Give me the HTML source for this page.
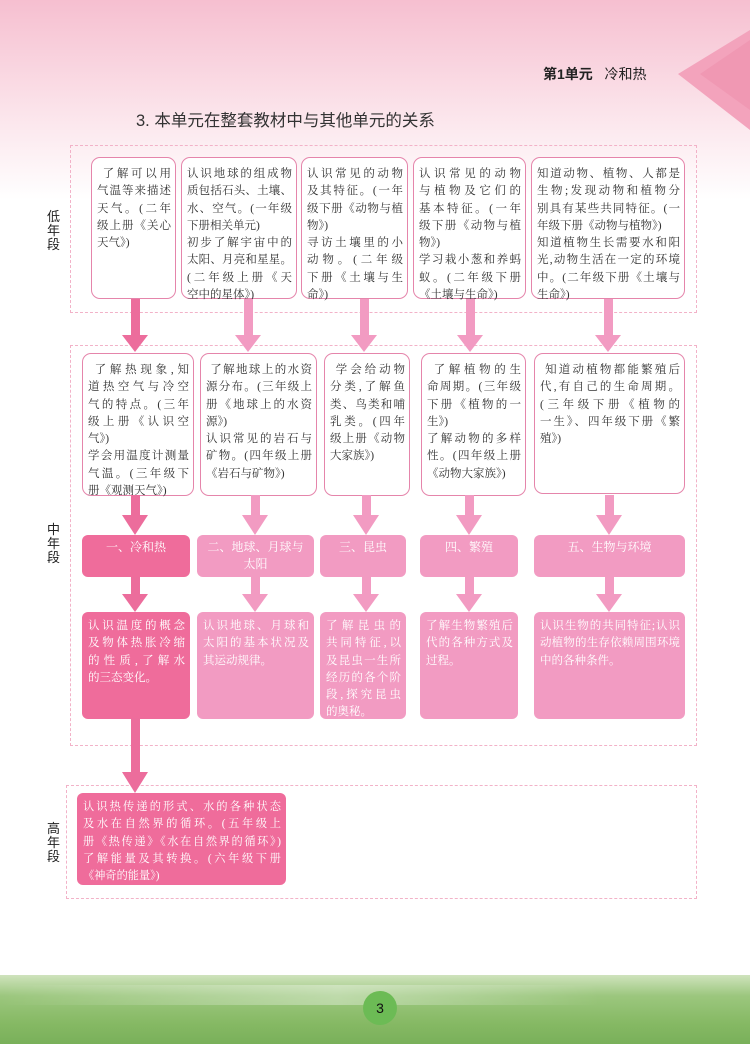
<!DOCTYPE html>
<html><head><meta charset="utf-8">
<style>
*{margin:0;padding:0;box-sizing:border-box}
body{width:750px;height:1044px;position:relative;overflow:hidden;background:#fff;font-family:"Liberation Serif","Noto Serif CJK SC",serif;}
.bgtop{position:absolute;left:0;top:0;width:750px;height:200px;background:linear-gradient(#f6bfd0,#fbe3ea 55%,#fff)}
.grass{position:absolute;left:0;top:975px;width:750px;height:69px;background:linear-gradient(#cfe3bd,#9cc77e 30%,#86b964 70%,#79b05a)}
.grass2{position:absolute;left:0;top:985px;width:750px;height:20px;background:linear-gradient(90deg,rgba(255,255,255,.0),rgba(255,255,255,.35) 45%,rgba(255,255,255,0) 80%)}
.abs{position:absolute}
.dash{position:absolute;border:1.3px dashed #f2b2c8}
.lab{position:absolute;font-family:"Liberation Sans","Noto Sans CJK SC",sans-serif;font-size:13px;line-height:14px;width:14px;color:#222}
.box{position:absolute;background:#fff;border:1.5px solid #e585ab;border-radius:9px;padding:8px 4px 0 5px;font-size:11.5px;line-height:17.3px;color:#333}
.l{white-space:nowrap}
.j{text-align:justify;text-align-last:justify}
.t{position:absolute;border-radius:6px;color:#fff;font-size:12px;line-height:17px;text-align:center;padding-top:4px}
.d{position:absolute;border-radius:6px;color:#fff;font-size:11.5px;line-height:17.3px;padding:6px 5px 0 6px}
.dk{background:#ef6c9b}
.lt{background:#f29bc2}
.bar{position:absolute;width:9px}
.head{position:absolute;width:0;height:0;border-left:13px solid transparent;border-right:13px solid transparent}
</style></head><body>
<div class="bgtop"></div>
<svg class="abs" style="left:670px;top:30px" width="80" height="100"><polygon points="80,0 8,44 80,100" fill="#f3a3bc"/><polygon points="80,10 30,44 80,80" fill="#ee91ae" opacity=".6"/></svg>
<div class="abs" style="left:543px;top:64px;font-family:'Liberation Sans','Noto Sans CJK SC',sans-serif;font-size:14px;color:#222"><b>第1单元</b>&nbsp;&nbsp;&nbsp;冷和热</div>
<div class="abs" style="left:136px;top:107px;font-family:'Liberation Sans','Noto Sans CJK SC',sans-serif;font-size:16.5px;color:#333">3. 本单元在整套教材中与其他单元的关系</div>

<div class="dash" style="left:70px;top:145px;width:627px;height:168px"></div>
<div class="dash" style="left:70px;top:345px;width:627px;height:401px"></div>
<div class="dash" style="left:66px;top:785px;width:631px;height:114px"></div>
<div class="lab" style="left:47px;top:210px">低年段</div>
<div class="lab" style="left:47px;top:523px">中年段</div>
<div class="lab" style="left:47px;top:822px">高年段</div>

<!-- row 1 -->
<div class="box" style="left:91px;top:157px;width:85px;height:142px"><div class="l j">&nbsp;了解可以用</div><div class="l j">气温等来描述</div><div class="l j">天气。(二年</div><div class="l j">级上册《关心</div><div class="l">天气》)</div></div>
<div class="box" style="left:181px;top:157px;width:116px;height:142px"><div class="l j">认识地球的组成物</div><div class="l j">质包括石头、土壤、</div><div class="l j">水、空气。(一年级</div><div class="l">下册相关单元)</div><div class="l j">初步了解宇宙中的</div><div class="l j">太阳、月亮和星星。</div><div class="l j">(二年级上册《天</div><div class="l">空中的星体》)</div></div>
<div class="box" style="left:301px;top:157px;width:107px;height:142px"><div class="l j">认识常见的动物</div><div class="l j">及其特征。(一年</div><div class="l j">级下册《动物与植</div><div class="l">物》)</div><div class="l j">寻访土壤里的小</div><div class="l j">动物。(二年级</div><div class="l j">下册《土壤与生</div><div class="l">命》)</div></div>
<div class="box" style="left:413px;top:157px;width:113px;height:142px"><div class="l j">认识常见的动物</div><div class="l j">与植物及它们的</div><div class="l j">基本特征。(一年</div><div class="l j">级下册《动物与植</div><div class="l">物》)</div><div class="l j">学习栽小葱和养蚂</div><div class="l j">蚁。(二年级下册</div><div class="l">《土壤与生命》)</div></div>
<div class="box" style="left:531px;top:157px;width:154px;height:142px"><div class="l j">知道动物、植物、人都是</div><div class="l j">生物;发现动物和植物分</div><div class="l j">别具有某些共同特征。(一</div><div class="l">年级下册《动物与植物》)</div><div class="l j">知道植物生长需要水和阳</div><div class="l j">光,动物生活在一定的环境</div><div class="l j">中。(二年级下册《土壤与</div><div class="l">生命》)</div></div>

<!-- arrows row1->row2 -->
<div class="bar" style="left:131px;top:299px;height:38px;background:#ec6d9c"></div><div class="head" style="left:122px;top:335px;border-top:17px solid #ec6d9c"></div>
<div class="bar" style="left:244px;top:299px;height:38px;background:#f29bc2"></div><div class="head" style="left:235px;top:335px;border-top:17px solid #f29bc2"></div>
<div class="bar" style="left:360px;top:299px;height:38px;background:#f29bc2"></div><div class="head" style="left:351px;top:335px;border-top:17px solid #f29bc2"></div>
<div class="bar" style="left:466px;top:299px;height:38px;background:#f29bc2"></div><div class="head" style="left:457px;top:335px;border-top:17px solid #f29bc2"></div>
<div class="bar" style="left:604px;top:299px;height:38px;background:#f29bc2"></div><div class="head" style="left:595px;top:335px;border-top:17px solid #f29bc2"></div>

<!-- row 2 -->
<div class="box" style="left:82px;top:353px;width:112px;height:143px"><div class="l j">&nbsp;了解热现象,知</div><div class="l j">道热空气与冷空</div><div class="l j">气的特点。(三年</div><div class="l j">级上册《认识空</div><div class="l">气》)</div><div class="l j">学会用温度计测量</div><div class="l j">气温。(三年级下</div><div class="l">册《观测天气》)</div></div>
<div class="box" style="left:200px;top:353px;width:117px;height:143px"><div class="l j">&nbsp;了解地球上的水资</div><div class="l j">源分布。(三年级上</div><div class="l j">册《地球上的水资</div><div class="l">源》)</div><div class="l j">认识常见的岩石与</div><div class="l j">矿物。(四年级上册</div><div class="l">《岩石与矿物》)</div></div>
<div class="box" style="left:324px;top:353px;width:86px;height:143px"><div class="l j">&nbsp;学会给动物</div><div class="l j">分类,了解鱼</div><div class="l j">类、鸟类和哺</div><div class="l j">乳类。(四年</div><div class="l j">级上册《动物</div><div class="l">大家族》)</div></div>
<div class="box" style="left:421px;top:353px;width:105px;height:143px"><div class="l j">&nbsp;了解植物的生</div><div class="l j">命周期。(三年级</div><div class="l j">下册《植物的一</div><div class="l">生》)</div><div class="l j">了解动物的多样</div><div class="l j">性。(四年级上册</div><div class="l">《动物大家族》)</div></div>
<div class="box" style="left:534px;top:353px;width:151px;height:141px"><div class="l j">&nbsp;知道动植物都能繁殖后</div><div class="l j">代,有自己的生命周期。</div><div class="l j">(三年级下册《植物的</div><div class="l j">一生》、四年级下册《繁</div><div class="l">殖》)</div></div>

<!-- arrows row2->titles -->
<div class="bar" style="left:131px;top:495px;height:22px;background:#ec6d9c"></div><div class="head" style="left:122px;top:515px;border-top:20px solid #ec6d9c"></div>
<div class="bar" style="left:251px;top:495px;height:22px;background:#f29bc2"></div><div class="head" style="left:242px;top:515px;border-top:20px solid #f29bc2"></div>
<div class="bar" style="left:362px;top:495px;height:22px;background:#f29bc2"></div><div class="head" style="left:353px;top:515px;border-top:20px solid #f29bc2"></div>
<div class="bar" style="left:465px;top:495px;height:22px;background:#f29bc2"></div><div class="head" style="left:456px;top:515px;border-top:20px solid #f29bc2"></div>
<div class="bar" style="left:605px;top:495px;height:22px;background:#f29bc2"></div><div class="head" style="left:596px;top:515px;border-top:20px solid #f29bc2"></div>

<!-- titles -->
<div class="t dk" style="left:82px;top:535px;width:108px;height:42px">一、冷和热</div>
<div class="t lt" style="left:197px;top:535px;width:117px;height:42px">二、地球、月球与<br>太阳</div>
<div class="t lt" style="left:320px;top:535px;width:86px;height:42px">三、昆虫</div>
<div class="t lt" style="left:420px;top:535px;width:98px;height:42px">四、繁殖</div>
<div class="t lt" style="left:534px;top:535px;width:151px;height:42px">五、生物与环境</div>

<!-- arrows titles->desc -->
<div class="bar" style="left:131px;top:577px;height:18px;background:#ec6d9c"></div><div class="head" style="left:122px;top:594px;border-top:18px solid #ec6d9c"></div>
<div class="bar" style="left:251px;top:577px;height:18px;background:#f29bc2"></div><div class="head" style="left:242px;top:594px;border-top:18px solid #f29bc2"></div>
<div class="bar" style="left:362px;top:577px;height:18px;background:#f29bc2"></div><div class="head" style="left:353px;top:594px;border-top:18px solid #f29bc2"></div>
<div class="bar" style="left:465px;top:577px;height:18px;background:#f29bc2"></div><div class="head" style="left:456px;top:594px;border-top:18px solid #f29bc2"></div>
<div class="bar" style="left:605px;top:577px;height:18px;background:#f29bc2"></div><div class="head" style="left:596px;top:594px;border-top:18px solid #f29bc2"></div>

<!-- desc -->
<div class="d dk" style="left:82px;top:612px;width:108px;height:107px"><div class="l j">认识温度的概念</div><div class="l j">及物体热胀冷缩</div><div class="l j">的性质,了解水</div><div class="l">的三态变化。</div></div>
<div class="d lt" style="left:197px;top:612px;width:117px;height:107px"><div class="l j">认识地球、月球和</div><div class="l j">太阳的基本状况及</div><div class="l">其运动规律。</div></div>
<div class="d lt" style="left:320px;top:612px;width:86px;height:107px"><div class="l j">了解昆虫的</div><div class="l j">共同特征,以</div><div class="l j">及昆虫一生所</div><div class="l j">经历的各个阶</div><div class="l j">段,探究昆虫</div><div class="l">的奥秘。</div></div>
<div class="d lt" style="left:420px;top:612px;width:98px;height:107px"><div class="l j">了解生物繁殖后</div><div class="l j">代的各种方式及</div><div class="l">过程。</div></div>
<div class="d lt" style="left:534px;top:612px;width:151px;height:107px"><div class="l j">认识生物的共同特征;认识</div><div class="l j">动植物的生存依赖周围环境</div><div class="l">中的各种条件。</div></div>

<!-- arrow to high -->
<div class="bar" style="left:131px;top:718px;height:55px;background:#ec6d9c"></div><div class="head" style="left:122px;top:772px;border-top:21px solid #ec6d9c"></div>

<div class="d dk" style="left:77px;top:793px;width:209px;height:92px;padding-left:6px;padding-right:5px;font-size:11.2px"><div class="l j">认识热传递的形式、水的各种状态</div><div class="l j">及水在自然界的循环。(五年级上</div><div class="l j">册《热传递》《水在自然界的循环》)</div><div class="l j">了解能量及其转换。(六年级下册</div><div class="l">《神奇的能量》)</div></div>

<div class="grass"></div><div class="grass2"></div>
<div class="abs" style="left:363px;top:991px;width:34px;height:34px;border-radius:50%;background:#6cbb55;color:#111;font-family:'Liberation Sans',sans-serif;font-size:14px;line-height:34px;text-align:center">3</div>
</body></html>
